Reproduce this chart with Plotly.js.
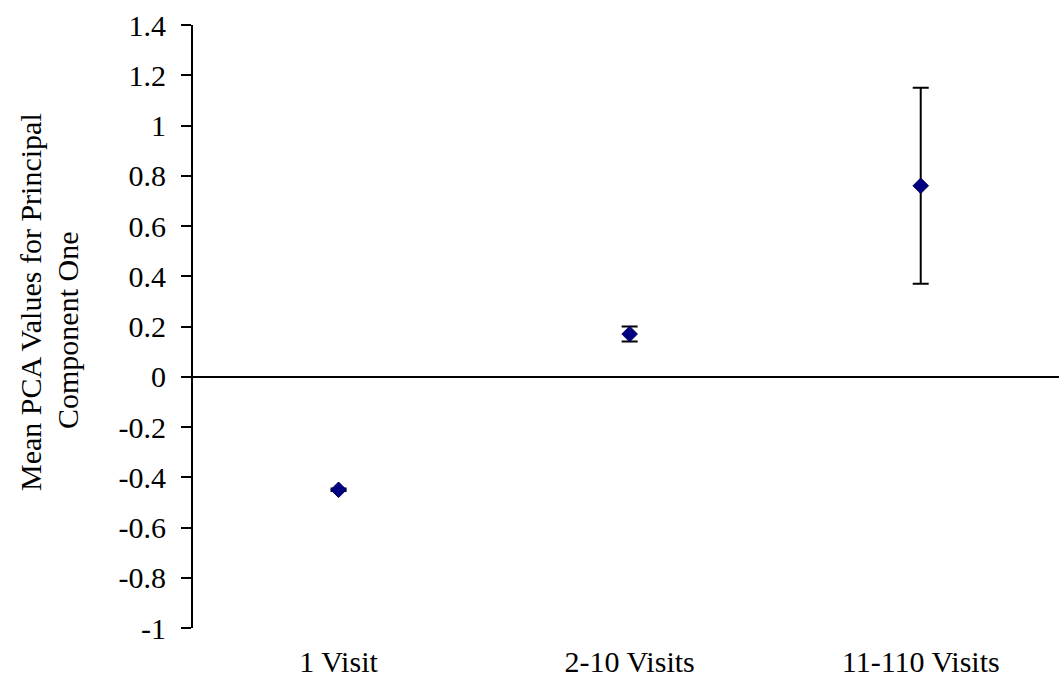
<!DOCTYPE html>
<html>
<head>
<meta charset="utf-8">
<script src="https://cdn.plot.ly/plotly-3.0.1.min.js"></script>
<style>html,body{margin:0;padding:0;background:#fff;}#chart{width:1059px;height:681px;}</style>
</head>
<body>
<div id="chart"></div>
<script>
const categories = ["1 Visit", "2-10 Visits", "11-110 Visits"];
const meanValues = [-0.45, 0.17, 0.76];
const errorValues = [0.005, 0.03, 0.39];
const yTickValues = [-1, -0.8, -0.6, -0.4, -0.2, 0, 0.2, 0.4, 0.6, 0.8, 1, 1.2, 1.4];
const yTickLabels = ["-1", "-0.8", "-0.6", "-0.4", "-0.2", "0", "0.2", "0.4", "0.6", "0.8", "1", "1.2", "1.4"];
const yTitleLines = ["Mean PCA Values for Principal", "Component One"];

const font = {family: "Times New Roman, Liberation Serif, Times, serif", size: 30, color: "#000"};

const trace = {
  type: "scatter",
  mode: "markers",
  x: categories,
  y: meanValues,
  marker: {symbol: "diamond", size: 12, color: "#000080", line: {color: "#000060", width: 1}},
  error_y: {type: "data", array: errorValues, visible: true, color: "#000", thickness: 2, width: 8},
  showlegend: false,
  hoverinfo: "none"
};

const layout = {
  width: 1059, height: 681,
  margin: {l: 193, r: 0, t: 25, b: 53},
  paper_bgcolor: "#fff", plot_bgcolor: "#fff",
  font: font,
  xaxis: {
    type: "category",
    range: [-0.5, 2.475],
    showline: false, showgrid: false, zeroline: false,
    ticks: "", ticklabelstandoff: 13,
    tickfont: font
  },
  yaxis: {
    range: [-1, 1.4],
    tickvals: yTickValues, ticktext: yTickLabels,
    showline: true, linecolor: "#000", linewidth: 2,
    ticks: "outside", ticklen: 10, tickwidth: 2, tickcolor: "#000",
    ticklabelstandoff: 9,
    showgrid: false,
    zeroline: true, zerolinecolor: "#000", zerolinewidth: 2,
    tickfont: font
  },
  annotations: [
    {text: yTitleLines[0], xref: "paper", yref: "paper", x: -193/866 + 30/866, y: (628 - 302) / 603, xanchor: "center", yanchor: "middle", textangle: -90, showarrow: false, font: font},
    {text: yTitleLines[1], xref: "paper", yref: "paper", x: -193/866 + 67/866, y: (628 - 331) / 603, xanchor: "center", yanchor: "middle", textangle: -90, showarrow: false, font: font}
  ]
};

Plotly.newPlot("chart", [trace], layout, {displayModeBar: false, staticPlot: true});
</script>
</body>
</html>
